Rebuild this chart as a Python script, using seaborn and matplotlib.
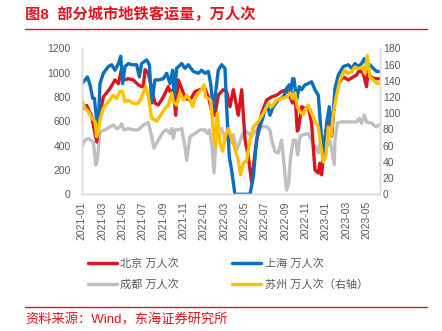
import matplotlib
matplotlib.use("Agg")
import matplotlib.pyplot as plt
import seaborn as sns
import pandas as pd
from matplotlib.lines import Line2D

sns.set_style("white")
plt.rcParams['font.family'] = ['Liberation Sans', 'Noto Sans CJK SC', 'DejaVu Sans']

# x values: months elapsed since 2021-01
bj_t = [0.00, 0.49, 0.98, 1.48, 1.80, 2.13, 2.79, 3.28, 3.61, 3.93, 4.16, 4.59, 5.08, 5.57, 5.90, 6.07,
        6.23, 6.56, 6.89, 7.21, 7.54, 8.03, 8.52, 8.69, 9.02, 9.25, 9.51, 9.84, 10.16, 10.66, 11.15,
        11.64, 12.13, 12.46, 12.79, 13.11, 13.44, 13.93, 14.26, 14.59, 14.92, 15.25, 15.41, 15.74,
        16.07, 16.39, 16.72, 17.05, 17.38, 17.70, 18.20, 18.69, 19.18, 19.67, 20.16, 20.49, 20.75,
        20.98, 21.21, 21.31, 21.64, 21.97, 22.30, 22.62, 22.79, 22.95, 23.28, 23.44, 23.61, 23.93,
        24.26, 24.59, 24.92, 25.25, 25.74, 26.23, 26.72, 27.05, 27.31, 27.70, 28.03, 28.20, 28.43,
        28.85, 29.25]
bj_v = [700, 730, 640, 430, 665, 800, 870, 940, 910, 1035, 940, 950, 940, 900, 885, 885,
        1025, 995, 870, 750, 735, 800, 885, 845, 860, 650, 940, 870, 790, 775, 845,
        860, 870, 800, 690, 650, 815, 860, 845, 720, 860, 720, 650, 860,
        450, 310, 100, 340, 530, 665, 775, 800, 815, 845, 860, 800, 750,
        845, 520, 530, 720, 705, 720, 585, 390, 200, 175, 255, 160, 475,
        585, 500, 800, 910, 965, 940, 965, 980, 1020, 995, 885, 1020, 965,
        950, 950]

sh_t = [0.00, 0.33, 0.56, 0.82, 1.08, 1.25, 1.48, 1.64, 1.80, 2.13, 2.62, 2.95, 3.28, 3.61, 3.84,
        4.03, 4.26, 4.59, 4.92, 5.41, 5.67, 5.90, 6.39, 6.66, 6.89, 7.21, 7.54, 8.03, 8.36, 8.69,
        8.95, 9.11, 9.34, 9.84, 10.16, 10.49, 10.98, 11.48, 11.80, 12.13, 12.46, 12.69, 12.95,
        13.21, 13.44, 13.77, 14.10, 14.26, 14.52, 14.75, 15.08, 16.23, 16.56, 16.89, 17.21, 17.54,
        17.87, 18.20, 18.52, 18.85, 19.34, 19.84, 20.16, 20.43, 20.56, 20.75, 20.89, 21.15, 21.41,
        21.64, 21.97, 22.30, 22.62, 22.95, 23.28, 23.61, 23.84, 24.10, 24.36, 24.59, 24.92, 25.25,
        25.74, 26.23, 26.56, 26.89, 27.21, 27.54, 27.80, 28.03, 28.36, 28.69, 29.02, 29.25]
sh_v = [910, 940, 965, 900, 790, 790, 600, 585, 910, 995, 1050, 1065, 1020, 1075, 1135,
        910, 1050, 1075, 1065, 1065, 965, 1075, 1105, 1065, 750, 940, 940, 950, 995, 910,
        1020, 800, 1035, 1075, 1035, 1065, 1010, 995, 1020, 995, 1010, 910, 690,
        860, 1020, 1065, 1035, 720, 310, 200, 0, 0, 0, 145, 450, 555,
        640, 750, 650, 720, 775, 800, 870, 900, 830, 950, 950, 775, 885,
        860, 900, 910, 925, 860, 815, 450, 335, 585, 720, 475, 870, 980,
        1050, 1065, 1035, 1075, 1050, 1075, 1115, 1075, 1065, 1035, 1010, 1010]

cd_t = [0.00, 0.33, 0.66, 1.15, 1.38, 1.54, 1.80, 2.30, 2.79, 3.11, 3.44, 3.77, 3.93, 4.16, 4.59,
        5.08, 5.57, 6.07, 6.56, 6.89, 7.11, 7.54, 8.03, 8.36, 8.69, 8.85, 9.02, 9.18, 9.51, 9.84,
        10.16, 10.33, 10.66, 11.15, 11.64, 12.13, 12.36, 12.56, 12.79, 13.02, 13.21, 13.44, 13.77,
        14.10, 14.43, 14.59, 14.92, 15.25, 15.51, 15.84, 16.23, 16.72, 17.21, 17.70, 18.20, 18.52,
        18.69, 19.02, 19.34, 19.67, 19.90, 20.16, 20.36, 20.56, 20.82, 21.05, 21.25, 21.48, 21.80,
        22.30, 22.62, 22.85, 23.05, 23.28, 23.51, 23.77, 24.10, 24.43, 24.85, 24.92, 25.15, 25.57,
        26.07, 26.56, 27.05, 27.31, 27.54, 27.80, 28.03, 28.52, 28.95, 29.25]
cd_v = [390, 445, 460, 430, 240, 280, 515, 530, 555, 570, 540, 555, 580, 530, 540,
        530, 530, 570, 590, 475, 380, 445, 515, 530, 500, 540, 460, 530, 530, 540,
        390, 280, 475, 500, 530, 530, 500, 530, 420, 175, 445, 530, 540,
        445, 460, 420, 490, 365, 420, 500, 515, 475, 530, 555, 555, 530,
        445, 350, 340, 445, 255, 35, 90, 310, 445, 445, 325, 475, 490,
        500, 445, 365, 390, 340, 445, 420, 390, 445, 245, 445, 585, 595,
        595, 595, 595, 625, 585, 650, 595, 585, 555, 570]

sz_t = [0.00, 0.33, 0.66, 0.98, 1.31, 1.48, 1.64, 1.80, 2.13, 2.62, 3.11, 3.44, 3.77, 4.03, 4.26,
        4.59, 5.08, 5.57, 5.90, 6.30, 6.56, 6.89, 7.38, 7.70, 8.20, 8.52, 8.85, 9.02, 9.34, 9.67,
        10.00, 10.33, 10.66, 10.92, 11.15, 11.48, 11.80, 12.03, 12.20, 12.46, 12.69, 12.95, 13.11,
        13.34, 13.61, 13.87, 14.10, 14.43, 14.69, 14.92, 15.18, 15.41, 15.64, 15.90, 16.23, 16.56,
        16.89, 17.38, 17.87, 18.36, 18.69, 19.18, 19.67, 20.16, 20.49, 20.75, 20.98, 21.21, 21.48,
        21.80, 22.07, 22.30, 22.62, 22.95, 23.28, 23.54, 23.77, 24.03, 24.26, 24.52, 24.75, 25.08,
        25.41, 25.90, 26.23, 26.56, 26.89, 27.21, 27.64, 27.87, 28.10, 28.36, 28.69, 29.02, 29.25]
sz_v = [116, 106, 102, 94, 90, 71, 79, 92, 106, 114, 122, 118, 127, 127, 114,
        116, 112, 112, 120, 133, 120, 94, 90, 96, 106, 110, 125, 114, 110, 125,
        116, 122, 116, 108, 118, 125, 129, 135, 120, 118, 116, 79, 59,
        100, 63, 53, 71, 81, 71, 63, 51, 42, 24, 38, 42, 67,
        83, 90, 100, 112, 108, 116, 118, 120, 125, 118, 125, 108, 102,
        98, 106, 110, 100, 90, 83, 59, 40, 48, 83, 71, 98, 122,
        141, 153, 149, 151, 157, 155, 157, 149, 171, 145, 141, 137, 137]

tick_pos = [0, 2, 4, 6, 8, 10, 12, 14, 16, 18, 20, 22, 24, 26, 28]
tick_labels = ['2021-01', '2021-03', '2021-05', '2021-07', '2021-09', '2021-11', '2022-01',
               '2022-03', '2022-05', '2022-07', '2022-09', '2022-11', '2023-01', '2023-03', '2023-05']

names = ['北京 万人次', '上海 万人次', '成都 万人次', '苏州 万人次（右轴）']
colors = {'bj': '#D7161F', 'sh': '#0A6FBF', 'cd': '#BFBFBF', 'sz': '#FFC000'}

fig = plt.figure(figsize=(4.42, 3.31), dpi=100)
ax = fig.add_axes([0.1848, 0.413, 0.6749, 0.441])
lw = 2.4
sns.lineplot(x=cd_t, y=cd_v, ax=ax, color=colors['cd'], lw=lw, estimator=None, sort=False)
sns.lineplot(x=bj_t, y=bj_v, ax=ax, color=colors['bj'], lw=lw, estimator=None, sort=False)
sns.lineplot(x=sh_t, y=sh_v, ax=ax, color=colors['sh'], lw=lw, estimator=None, sort=False)
ax2 = ax.twinx()
sns.lineplot(x=sz_t, y=sz_v, ax=ax2, color=colors['sz'], lw=lw, estimator=None, sort=False)

ax.set_xlim(0, 29.35)
ax.set_ylim(0, 1200)
ax2.set_ylim(0, 180)
ax.set_yticks(range(0, 1201, 200))
ax2.set_yticks(range(0, 181, 20))
ax.set_xticks(tick_pos)
ax.set_xticklabels(tick_labels, rotation=90)

gray = '#595959'
spc = '#D9D9D9'
for a in (ax, ax2):
    for s in ['top']:
        a.spines[s].set_visible(False)
    for s in ['left', 'right', 'bottom']:
        a.spines[s].set_color(spc)
        a.spines[s].set_linewidth(1.0)
ax.tick_params(axis='y', length=0, pad=8, labelsize=7.5, colors=gray)
ax2.tick_params(axis='y', length=0, pad=2, labelsize=7.5, colors=gray)
ax.tick_params(axis='x', length=3, width=0.8, color=spc, pad=2, labelsize=7.5, labelcolor=gray)
ax.set_xlabel('')
ax.set_ylabel('')
ax2.set_ylabel('')

red = '#E3141E'
fig.text(25 / 442, 1 - 14 / 331, '图8  部分城市地铁客运量，万人次', color=red, fontsize=11,
         fontweight='bold', va='center', ha='left')
fig.add_artist(Line2D([25 / 442, 427 / 442], [1 - 29 / 331, 1 - 29 / 331], color=red, lw=1.0))
fig.add_artist(Line2D([25 / 442, 427 / 442], [1 - 306.5 / 331, 1 - 306.5 / 331], color=red, lw=1.0))
fig.text(25 / 442, 1 - 320 / 331, '资料来源：Wind，东海证券研究所', color=red, fontsize=9.5,
         va='center', ha='left')

handles = [Line2D([], [], color=colors[k], lw=2.5) for k in ['bj', 'sh', 'cd', 'sz']]
order = [0, 2, 1, 3]
leg = fig.legend([handles[i] for i in order], [names[i] for i in order], ncol=2,
                 loc='upper left', bbox_to_anchor=(88 / 442, 1 - 258 / 331), frameon=False,
                 fontsize=8, handlelength=2.6, handletextpad=0.3, columnspacing=4.8,
                 labelspacing=0.95, borderpad=0.0, borderaxespad=0.0)
for t in leg.get_texts():
    t.set_color(gray)

fig.savefig('out.png', dpi=100)
